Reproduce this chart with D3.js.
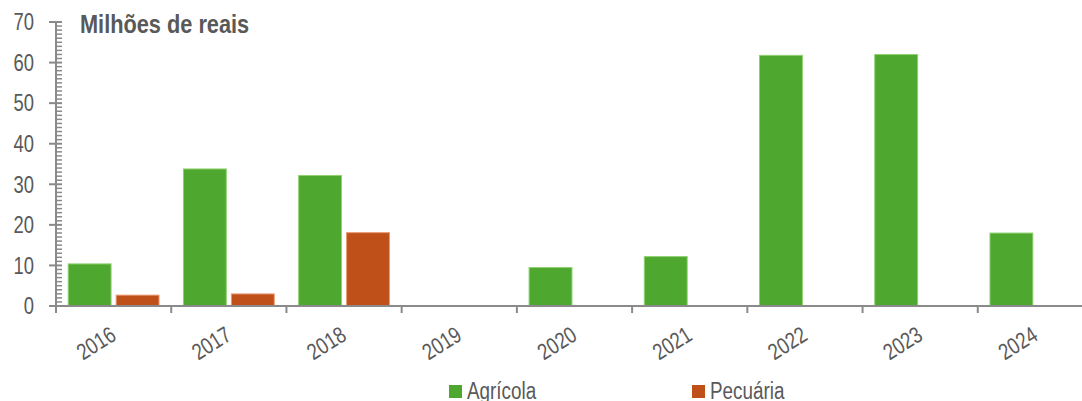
<!DOCTYPE html>
<html>
<head>
<meta charset="utf-8">
<script src="https://cdn.jsdelivr.net/npm/d3@7"></script>
<style>
  body { margin: 0; background: #fff; }
  svg { display: block; }
  text { font-family: "Liberation Sans", Arial, sans-serif; fill: #595959; }
</style>
</head>
<body>
<svg></svg>
<script>
var years = ['2016', '2017', '2018', '2019', '2020', '2021', '2022', '2023', '2024'];
var seriesNames = ['Agrícola', 'Pecuária'];
var agricola = [10.5, 33.9, 32.3, 0, 9.6, 12.3, 61.9, 62.1, 18.1];
var pecuaria = [2.8, 3.1, 18.2, 0, 0, 0, 0, 0, 0];
var yTicks = [0, 10, 20, 30, 40, 50, 60, 70];
var colors = ['#4ea72e', '#c0501a'];
var strokes = ['#8fd16f', '#e89a70'];

var width = 1082;
var height = 401;
var margin = { left: 56, top: 22, bottom: 95 };
var narrow = 0.8; // no condensed face installed, so squeeze text horizontally

var svg = d3.select('svg')
    .attr('width', width)
    .attr('height', height);

var xScale = d3.scaleBand()
    .domain(years)
    .range([margin.left, 1093])
    .paddingInner(0)
    .paddingOuter(0);

var inner = d3.scaleBand()
    .domain(seriesNames)
    .range([11.7, xScale.bandwidth() - 11.7])
    .paddingInner(0.085);

var yScale = d3.scaleLinear()
    .domain([0, 70])
    .range([306, margin.top]);

var rows = years.map(function(y, i) {
    return { year: y, values: [agricola[i], pecuaria[i]] };
});

// bars
var groups = svg.append('g')
    .selectAll('g')
    .data(rows)
    .enter()
    .append('g')
      .attr('transform', d => 'translate(' + xScale(d.year) + ',0)');

groups.selectAll('rect')
    .data(d => d.values.map((v, k) => ({ name: seriesNames[k], value: v, k: k })))
    .enter()
    .filter(d => d.value > 0)
    .append('rect')
      .attr('x', d => inner(d.name) + 0.5)
      .attr('width', inner.bandwidth() - 1)
      .attr('y', d => yScale(d.value) + 0.5)
      .attr('height', d => yScale(0) - yScale(d.value) - 0.5)
      .attr('fill', d => colors[d.k])
      .attr('stroke', d => strokes[d.k])
      .attr('stroke-width', 1);

// y axis with minor ticks
var axisColor = '#8a8a8a';
var minor = d3.range(0, 70.5, 1).filter(v => v % 10 !== 0);

var yAxis = svg.append('g')
    .attr('transform', 'translate(' + margin.left + ',0)');

yAxis.append('line')
    .attr('x1', 0).attr('x2', 0)
    .attr('y1', yScale(70)).attr('y2', yScale(0) + 7)
    .attr('stroke', axisColor).attr('stroke-width', 2);

yAxis.selectAll('.minor')
    .data(minor)
    .enter()
    .append('line')
      .attr('x1', 0).attr('x2', 6)
      .attr('y1', d => yScale(d)).attr('y2', d => yScale(d))
      .attr('stroke', axisColor).attr('stroke-width', 1.5);

yAxis.selectAll('.major')
    .data(yTicks)
    .enter()
    .append('line')
      .attr('x1', -7).attr('x2', 6)
      .attr('y1', d => yScale(d)).attr('y2', d => yScale(d))
      .attr('stroke', axisColor).attr('stroke-width', 2);

yAxis.selectAll('text')
    .data(yTicks)
    .enter()
    .append('text')
      .attr('transform', d => 'translate(-22,' + yScale(d) + ') scale(' + narrow + ',1)')
      .attr('dy', '0.36em')
      .attr('text-anchor', 'end')
      .attr('font-size', 23)
      .text(d => d);

// x axis
var xAxis = svg.append('g');

xAxis.append('line')
    .attr('x1', margin.left).attr('x2', width)
    .attr('y1', yScale(0)).attr('y2', yScale(0))
    .attr('stroke', axisColor).attr('stroke-width', 2);

xAxis.selectAll('.tick')
    .data(years)
    .enter()
    .append('line')
      .attr('x1', d => xScale(d)).attr('x2', d => xScale(d))
      .attr('y1', yScale(0)).attr('y2', yScale(0) + 7)
      .attr('stroke', axisColor).attr('stroke-width', 2);

xAxis.selectAll('text')
    .data(years)
    .enter()
    .append('text')
      .attr('text-anchor', 'end')
      .attr('font-size', 23)
      .attr('transform', d => 'translate(' + (xScale(d) + xScale.bandwidth() / 2 + 4) + ',339) rotate(-32) scale(' + narrow + ',1)')
      .text(d => d);

// title
svg.append('text')
    .attr('transform', 'translate(80,33) scale(0.87,1)')
    .attr('font-size', 25)
    .attr('font-weight', 'bold')
    .text('Milhões de reais');

// legend
var legendX = [449, 692];
var legend = svg.selectAll('.legend')
    .data(seriesNames)
    .enter()
    .append('g')
      .attr('transform', (d, i) => 'translate(' + legendX[i] + ',385)');

legend.append('rect')
    .attr('width', 13)
    .attr('height', 13)
    .attr('fill', (d, i) => colors[i]);

legend.append('text')
    .attr('transform', 'translate(18,14) scale(0.82,1)')
    .attr('font-size', 23)
    .text(d => d);
</script>
</body>
</html>
